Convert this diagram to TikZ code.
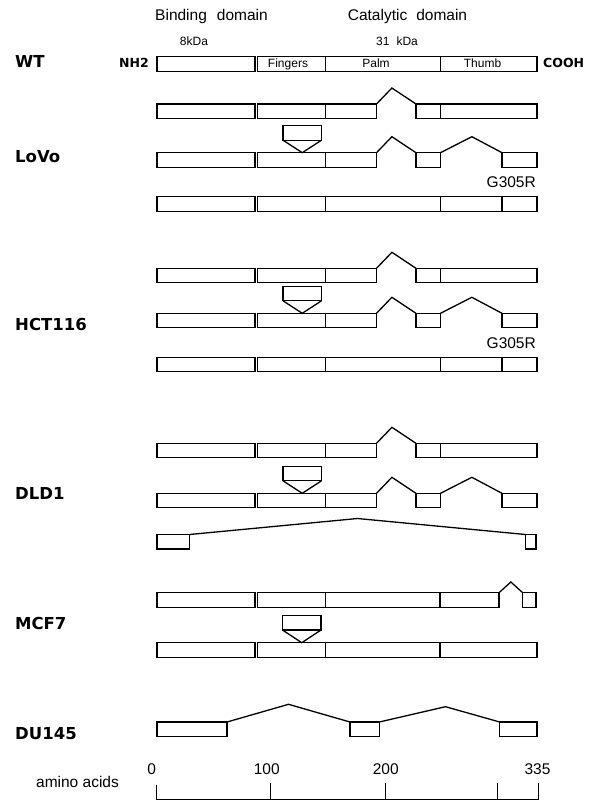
\documentclass[tikz,border=0pt]{standalone}
\usepackage{fontspec}
\setmainfont{Liberation Sans}
\newfontfamily\cellfont{DejaVu Sans}
\usetikzlibrary{calc}

\tikzset{
  exon/.style={draw, line width=1.2pt, inner sep=0pt, outer sep=0pt,
    minimum height=14.5, anchor=north west},
  splice/.style={line width=1.3pt, line join=miter},
  cell/.style={anchor=base west, inner sep=0pt,
    font=\cellfont\bfseries\fontsize{16.5}{18}\selectfont},
  term/.style={inner sep=0pt, font=\cellfont\bfseries\fontsize{12.5}{14}\selectfont},
  big/.style={inner sep=0pt, anchor=base, font=\fontsize{15.5}{18}\selectfont},
  small/.style={inner sep=0pt, anchor=base, font=\fontsize{12}{13}\selectfont},
  axis/.style={line width=1pt}
}

\begin{document}
\begin{tikzpicture}[x=1pt, y=-1pt]
\useasboundingbox (0,0) rectangle (595,801);
\node[big] (bind) at (211.5,20) {Binding\hspace{10pt}domain};
\node[big] (cat) at (407.5,20) {Catalytic\hspace{9pt}domain};
\node[small] (kda8) at (194,45.7) {8kDa};
\node[small] (kda31) at (397,45.7) {31\hspace{7pt}kDa};

\node[cell] (wt) at (15,67.7) {WT};
\node[cell] (lovo) at (15,162.7) {LoVo};
\node[cell] (hct) at (15,330.7) {HCT116};
\node[cell] (dld) at (15,499.3) {DLD1};
\node[cell] (mcf) at (15,629.3) {MCF7};
\node[cell] (du) at (15,739.3) {DU145};

% wild type
\foreach \n/\xa/\xb in {1/157/255, 2/257.5/325.5, 3/325.5/440.5, 4/440.5/537}
  \node[exon, minimum width=\xb-\xa] (wt\n) at (\xa,56.7) {};
\node[small] (fing) at (288,67.5) {Fingers};
\node[small] (palm) at (376,67.5) {Palm};
\node[small] (thumb) at (482.5,67.5) {Thumb};
\node[term, anchor=base east] (nh) at (149,67.7) {NH2};
\node[term, anchor=base west] (cooh) at (543,67.7) {COOH};

\foreach \row/\y in {la/104, ha/268.3, da/443.3} {
  \foreach \n/\xa/\xb in {1/157/255, 2/257.5/325.5, 3/325.5/376.5, 4/416/440.5, 5/440.5/537}
    \node[exon, minimum width=\xb-\xa] (\row\n) at (\xa,\y) {};
  \draw[splice] (\row3.north east) -- ($(\row3.north east)!.39!(\row4.north west)+(0,-16)$) -- (\row4.north west);
}

\foreach \row/\y in {lb/152.7, hb/313.3, db/493.3} {
  \foreach \n/\xa/\xb in {1/157/255, 2/257.5/325.5, 3/325.5/376.5, 4/416/440.5, 5/502/537}
    \node[exon, minimum width=\xb-\xa] (\row\n) at (\xa,\y) {};
  \draw[splice] (\row3.north east) -- ($(\row3.north east)!.39!(\row4.north west)+(0,-16)$) -- (\row4.north west);
  \draw[splice] (\row4.north east) -- ($(\row4.north east)!.51!(\row5.north west)+(0,-16)$) -- (\row5.north west);
  \node[exon, minimum width=38.5] (\row ins) at (283,\y-27) {};
  \draw[splice] (\row ins.south west) -- (\row ins.south |- \row2.north) -- (\row ins.south east);
}

\foreach \row/\y in {lc/196.7, hc/357.3} {
  \foreach \n/\xa/\xb in {1/157/255, 2/257.5/325.5, 3/325.5/440.5, 4/440.5/502, 5/502/537}
    \node[exon, minimum width=\xb-\xa] (\row\n) at (\xa,\y) {};
  \node[big, anchor=base east] (\row mut) at (536,\y-9) {G305R};
}

\node[exon, minimum width=32.5] (dc1) at (157,534.5) {};
\node[exon, minimum width=10.5] (dc2) at (525.5,534.5) {};
\draw[splice] (dc1.north east) -- ($(dc1.north east)!.5!(dc2.north west)+(0,-16)$) -- (dc2.north west);

\foreach \n/\xa/\xb in {1/157/255, 2/257.5/325.5, 3/325.5/440, 4/440/499, 5/522.7/536}
  \node[exon, minimum width=\xb-\xa] (ma\n) at (\xa,592.7) {};
\draw[splice] (ma4.north east) -- ($(ma4.north east)!.5!(ma5.north west)+(0,-10.7)$) -- (ma5.north west);
\foreach \n/\xa/\xb in {1/157/255, 2/257.5/325.5, 3/325.5/440, 4/440/537}
  \node[exon, minimum width=\xb-\xa] (mb\n) at (\xa,642.7) {};
\node[exon, minimum width=38.5] (mbins) at (282.5,615.5) {};
\draw[splice] (mbins.south west) -- (mbins.south |- mb2.north) -- (mbins.south east);

\foreach \n/\xa/\xb in {1/157/227, 2/350/379.3, 3/499.7/537}
  \node[exon, minimum width=\xb-\xa] (du\n) at (\xa,722) {};
\draw[splice] (du1.north east) -- ($(du1.north east)!.5!(du2.north west)+(0,-17.7)$) -- (du2.north west)
  (du2.north east) -- ($(du2.north east)!.55!(du3.north west)+(0,-15.3)$) -- (du3.north west);

\node[big] (aa) at (77.5,787) {amino acids};
\foreach \x/\t in {151.7/0, 266.7/100, 385.7/200, 537.5/335}
  \node[big] (num\t) at (\x,774.3) {\t};
\draw[axis] (156.7,785) -- (156.7,799.3) -- (538.3,799.3) -- (538.3,783);
\foreach \x in {270.3, 385.5, 497}
  \draw[axis] (\x,783) -- (\x,799.3);
\end{tikzpicture}
\end{document}
